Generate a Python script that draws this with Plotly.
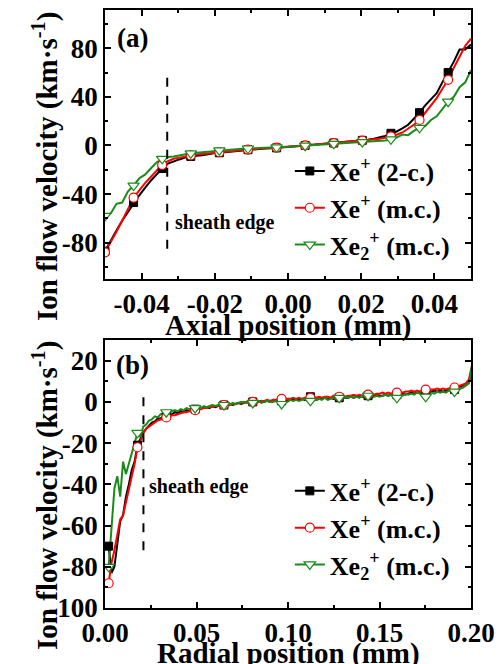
import numpy as np
import plotly.graph_objects as go

# ---------------- data ----------------
# (a) axial profiles
axial_x = np.linspace(-0.05, 0.05, 65)
xe_2c_a = [
    -87, -78, -70, -62, -55, -47, -41, -35, -29, -24,
    -19, -15, -13, -11.5, -10, -9, -8.5, -8, -7, -6.5,
    -6, -5.5, -5, -4.5, -4, -3.5, -3, -2.8, -2.5, -2.2,
    -2, -1.6, -1.2, -0.8, -0.4, 0, 0.4, 0.8, 1.2, 1.6,
    2, 2.4, 2.8, 3.2, 3.7, 4.2, 4.8, 5.5, 6.5, 7.8,
    10, 11.5, 14, 17, 22, 27, 33, 38, 43, 52,
    60, 69, 79, 79, 83]
xe_mc_a = [
    -88, -80, -71, -62, -52, -43, -37, -31, -26, -21,
    -16, -13, -11, -10, -9, -8.2, -7.5, -7, -6.5, -6,
    -5.5, -5, -4.6, -4.2, -3.8, -3.4, -3, -2.7, -2.4, -2.1,
    -1.8, -1.5, -1.2, -0.8, -0.4, 0, 0.4, 0.8, 1.2, 1.6,
    2, 2.4, 2.8, 3.2, 3.6, 4, 4.5, 5, 5.6, 6.4,
    7.4, 8.8, 10.7, 13.5, 17, 21, 26.7, 33, 39, 46.7,
    54, 64, 73, 82, 88]
xe2_mc_a = [
    -58, -56, -48, -47, -38, -33, -27, -24, -19, -14,
    -11, -9.5, -9, -8, -7.5, -6.5, -6, -5.5, -5, -4.5,
    -4, -3.7, -3.4, -3.1, -2.8, -2.5, -2.3, -2.1, -1.9, -1.7,
    -1.5, -1.3, -1.1, -0.8, -0.5, -0.2, 0.1, 0.4, 0.7, 1,
    1.3, 1.6, 1.9, 2.2, 2.5, 2.8, 3.1, 3.4, 3.7, 4.1,
    5, 6.5, 9, 8.5, 12, 14.5, 16, 21, 24, 30,
    36, 40, 48, 52, 62]

# (b) radial profiles
radial_x = np.linspace(0.002, 0.002 + 127 * 0.001575, 128)
xe_2c_b = [
    -70, -83, -80, -70, -58, -55, -46, -40, -33, -29,
    -21, -18, -15, -13, -11.5, -10, -9.5, -8, -8, -7,
    -6.5, -6.5, -6, -5, -5.5, -4.5, -5, -4, -4.5, -3.5,
    -3.5, -3.5, -3, -3, -2.5, -3, -2, -2.5, -2, -1.5,
    -1.5, -1.5, -1, -1.5, -1, -0.5, -1, -0.5, 0, -0.5,
    0, -0.5, 0, 0.5, 0, 0.5, 0, 0.5, 0.5, 1,
    0.5, 1, 0.5, 1, 1.5, 1, 1, 1.5, 1, 1.5,
    2.5, 1.5, 1, 1.5, 1.5, 2, 1.5, 2, 1.5, 2,
    2, 2.5, 2, 2, 2.5, 2, 2.5, 3, 2.5, 2.5,
    3, 2.5, 3, 3.5, 3, 3, 3.5, 3, 3.5, 4,
    3.5, 4, 4, 3.5, 4, 4.5, 4, 4.5, 5, 4.5,
    5, 4.5, 5, 5.5, 5, 5.5, 5, 5.5, 6, 6.5,
    6, 7, 7.5, 8, 9, 10, 14.5, 10]
xe_mc_b = [
    -88, -78, -72, -65, -57, -55, -49, -43, -37, -30,
    -22, -19, -15, -13, -12, -11, -10, -9, -8.5, -8,
    -7.5, -7, -6.5, -6.5, -6, -5.5, -5, -5, -4.5, -4,
    -4, -3.5, -3.5, -3, -3, -2.5, -2.5, -2, -2, -2,
    -1.5, -1.5, -1, -1, -1, -0.5, -0.5, 0, -0.5, 0,
    0, 0.5, 0, 0.5, 0.5, 1, 0.5, 1, 1, 1,
    1.5, 1, 1.5, 1.5, 2, 1.5, 2, 1.5, 2, 2,
    2, 2.5, 2, 2.5, 2, 2.5, 2.5, 2, 3, 2.5,
    2.5, 3, 2.5, 3, 3, 3.5, 3, 3.5, 3, 3.5,
    3.5, 4, 3.5, 4, 4, 4.5, 4, 4.5, 4, 4.5,
    4.5, 5, 4.5, 5, 5, 5.5, 5, 5.5, 5, 5.5,
    6, 5.5, 6, 6, 6.5, 6, 6.5, 6, 6.5, 7,
    7, 7.5, 8, 8.5, 9, 11, 17.5, 12]
xe2_mc_b = [
    -80, -60, -42, -36, -46, -29, -35, -30, -25, -21,
    -15, -17, -12, -11, -9, -8.5, -7, -7.5, -6, -5.5,
    -5, -5.5, -4.5, -4, -4.5, -3.5, -4, -3, -3.5, -3,
    -3, -2.5, -3, -2, -2.5, -2, -1.5, -2, -1.5, -1,
    -1.5, -1, -1.5, -0.5, -1, -0.5, 0, -0.5, 0, -0.5,
    -0.5, 0, 0.5, -0.5, 0, 0.5, 0, 0, 0.5, 0,
    -1, 0.5, 0, 1, 0.5, 1, 0.5, 1, 1.5, 1,
    0.5, 1.5, 1, 1.5, 1, 2, 1, 1.5, 2, 1.5,
    2, 1.5, 2.5, 2, 2.5, 2, 2.5, 2, 3, 2.5,
    3, 2, 2.5, 3, 2.5, 3, 3.5, 3, 3.5, 3,
    2, 3.5, 3, 4, 3.5, 4, 3.5, 4.5, 4, 4.5,
    2.5, 4, 4.5, 4, 5, 4.5, 5, 4.5, 5.5, 5,
    5, 6, 6.5, 7, 8, 9, 17, 11]

series_names = ["Xe<sup>+</sup> (2-c.)", "Xe<sup>+</sup> (m.c.)",
                "Xe<sub>2</sub><sup>+</sup> (m.c.)"]
sheath_a = -0.033
sheath_a_span = [-85, 60]
sheath_b = 0.021
sheath_b_span = [-72, 5]

axial_ticks = [-0.04, -0.02, 0.00, 0.02, 0.04]
radial_ticks = [0.00, 0.05, 0.10, 0.15, 0.20]
vel_ticks_a = [-80, -40, 0, 40, 80]
vel_ticks_b = [-100, -80, -60, -40, -20, 0, 20]

# ---------------- styling ----------------
FONT = "Liberation Serif, Times New Roman, serif"
GREEN = "#1a8a1a"
styles = [
    dict(line=dict(color="black", width=2),
         marker=dict(symbol="square", size=8, color="black",
                     line=dict(color="black", width=1))),
    dict(line=dict(color="#ff0000", width=2),
         marker=dict(symbol="circle", size=9, color="white",
                     line=dict(color="#ff0000", width=1.2))),
    dict(line=dict(color=GREEN, width=2),
         marker=dict(symbol="triangle-down", size=10, color="white",
                     line=dict(color=GREEN, width=1.2))),
]

fig = go.Figure()


def add_series(x, ys, every, xa, ya, legend):
    x = np.asarray(x)
    # lines
    for k, y in enumerate(ys):
        fig.add_trace(go.Scatter(x=x, y=y, mode="lines", line=styles[k]["line"],
                                 xaxis=xa, yaxis=ya, showlegend=False,
                                 hoverinfo="skip"))
    # markers every n-th sample
    for k, y in enumerate(ys):
        y = np.asarray(y)
        fig.add_trace(go.Scatter(x=x[::every], y=y[::every], mode="markers",
                                 marker=styles[k]["marker"], xaxis=xa, yaxis=ya,
                                 showlegend=False))
    # legend entries
    for k, name in enumerate(series_names):
        fig.add_trace(go.Scatter(x=[None], y=[None], mode="lines+markers",
                                 name=name, line=styles[k]["line"],
                                 marker=styles[k]["marker"], xaxis=xa, yaxis=ya,
                                 legend=legend))


add_series(axial_x, [xe_2c_a, xe_mc_a, xe2_mc_a], 5, "x", "y", "legend")
add_series(radial_x, [xe_2c_b, xe_mc_b, xe2_mc_b], 10, "x2", "y2", "legend2")

axis_common = dict(
    showline=True, linecolor="black", linewidth=1.5, mirror="allticks",
    ticks="inside", ticklen=6, tickwidth=1.5, tickcolor="black",
    showgrid=False, zeroline=False,
    tickfont=dict(family=FONT, size=27, color="black", weight="bold"),
)


def fmt2(v):
    return f"{v:.2f}"


legend_common = dict(xanchor="left", yanchor="top", bgcolor="rgba(0,0,0,0)",
                     font=dict(family=FONT, size=26, color="black", weight="bold"),
                     tracegroupgap=0)

fig.update_layout(
    width=503, height=664,
    margin=dict(l=105, r=30, t=8, b=56),
    paper_bgcolor="white", plot_bgcolor="white",
    font=dict(family=FONT, color="black", weight="bold"),
    xaxis=dict(axis_common, domain=[0, 1], anchor="y", range=[-0.05, 0.05],
               tickvals=axial_ticks, ticktext=[fmt2(v) for v in axial_ticks],
               minor=dict(ticks="inside", dtick=0.01, tick0=0, ticklen=3, tickcolor="black")),
    yaxis=dict(axis_common, domain=[0.55, 1], anchor="x", range=[-110, 111.5],
               tickvals=vel_ticks_a, ticktext=[str(v) for v in vel_ticks_a],
               minor=dict(ticks="inside", dtick=20, tick0=0, ticklen=3, tickcolor="black")),
    xaxis2=dict(axis_common, domain=[0, 1], anchor="y2", range=[0, 0.2],
                tickvals=radial_ticks, ticktext=[fmt2(v) for v in radial_ticks],
                minor=dict(ticks="inside", dtick=0.025, tick0=0, ticklen=3, tickcolor="black")),
    yaxis2=dict(axis_common, domain=[0, 0.448], anchor="x2", range=[-100, 30],
                tickvals=vel_ticks_b, ticktext=[str(v) for v in vel_ticks_b],
                minor=dict(ticks="inside", dtick=10, tick0=0, ticklen=3, tickcolor="black")),
    legend=dict(legend_common, x=0.505, y=0.77),
    legend2=dict(legend_common, x=0.505, y=0.235),
    showlegend=True,
)

# sheath edge dashed lines
fig.add_shape(type="line", xref="x", yref="y", x0=sheath_a, x1=sheath_a,
              y0=sheath_a_span[0], y1=sheath_a_span[1],
              line=dict(color="black", width=2, dash="dash"))
fig.add_shape(type="line", xref="x2", yref="y2", x0=sheath_b, x1=sheath_b,
              y0=sheath_b_span[0], y1=sheath_b_span[1],
              line=dict(color="black", width=2, dash="dash"))

ann_font = dict(family=FONT, color="black", weight="bold")
anns = [
    dict(text="(a)", xref="x domain", yref="y domain", x=0.076, y=0.896,
         font=dict(ann_font, size=27)),
    dict(text="(b)", xref="x2 domain", yref="y2 domain", x=0.076, y=0.907,
         font=dict(ann_font, size=27)),
    dict(text="sheath edge", xref="x domain", yref="y domain", x=0.185, y=0.211,
         xanchor="left", font=dict(ann_font, size=20)),
    dict(text="sheath edge", xref="x2 domain", yref="y2 domain", x=0.114, y=0.454,
         xanchor="left", font=dict(ann_font, size=20)),
    dict(text="Ion flow velocity (km·s<sup>-1</sup>)", xref="paper", yref="paper",
         x=-0.163, y=0.738, textangle=-90, font=dict(ann_font, size=29)),
    dict(text="Ion flow velocity (km·s<sup>-1</sup>)", xref="paper", yref="paper",
         x=-0.163, y=0.188, textangle=-90, font=dict(ann_font, size=29)),
    dict(text="Axial position (mm)", xref="paper", yref="paper",
         x=0.5, y=0.473, font=dict(ann_font, size=29)),
    dict(text="Radial position (mm)", xref="paper", yref="paper",
         x=0.5, y=-0.076, font=dict(ann_font, size=29)),
]
for a in anns:
    a.setdefault("showarrow", False)
    a.setdefault("xanchor", "center")
    a.setdefault("yanchor", "middle")
    fig.add_annotation(**a)

fig.write_html("out.html")
